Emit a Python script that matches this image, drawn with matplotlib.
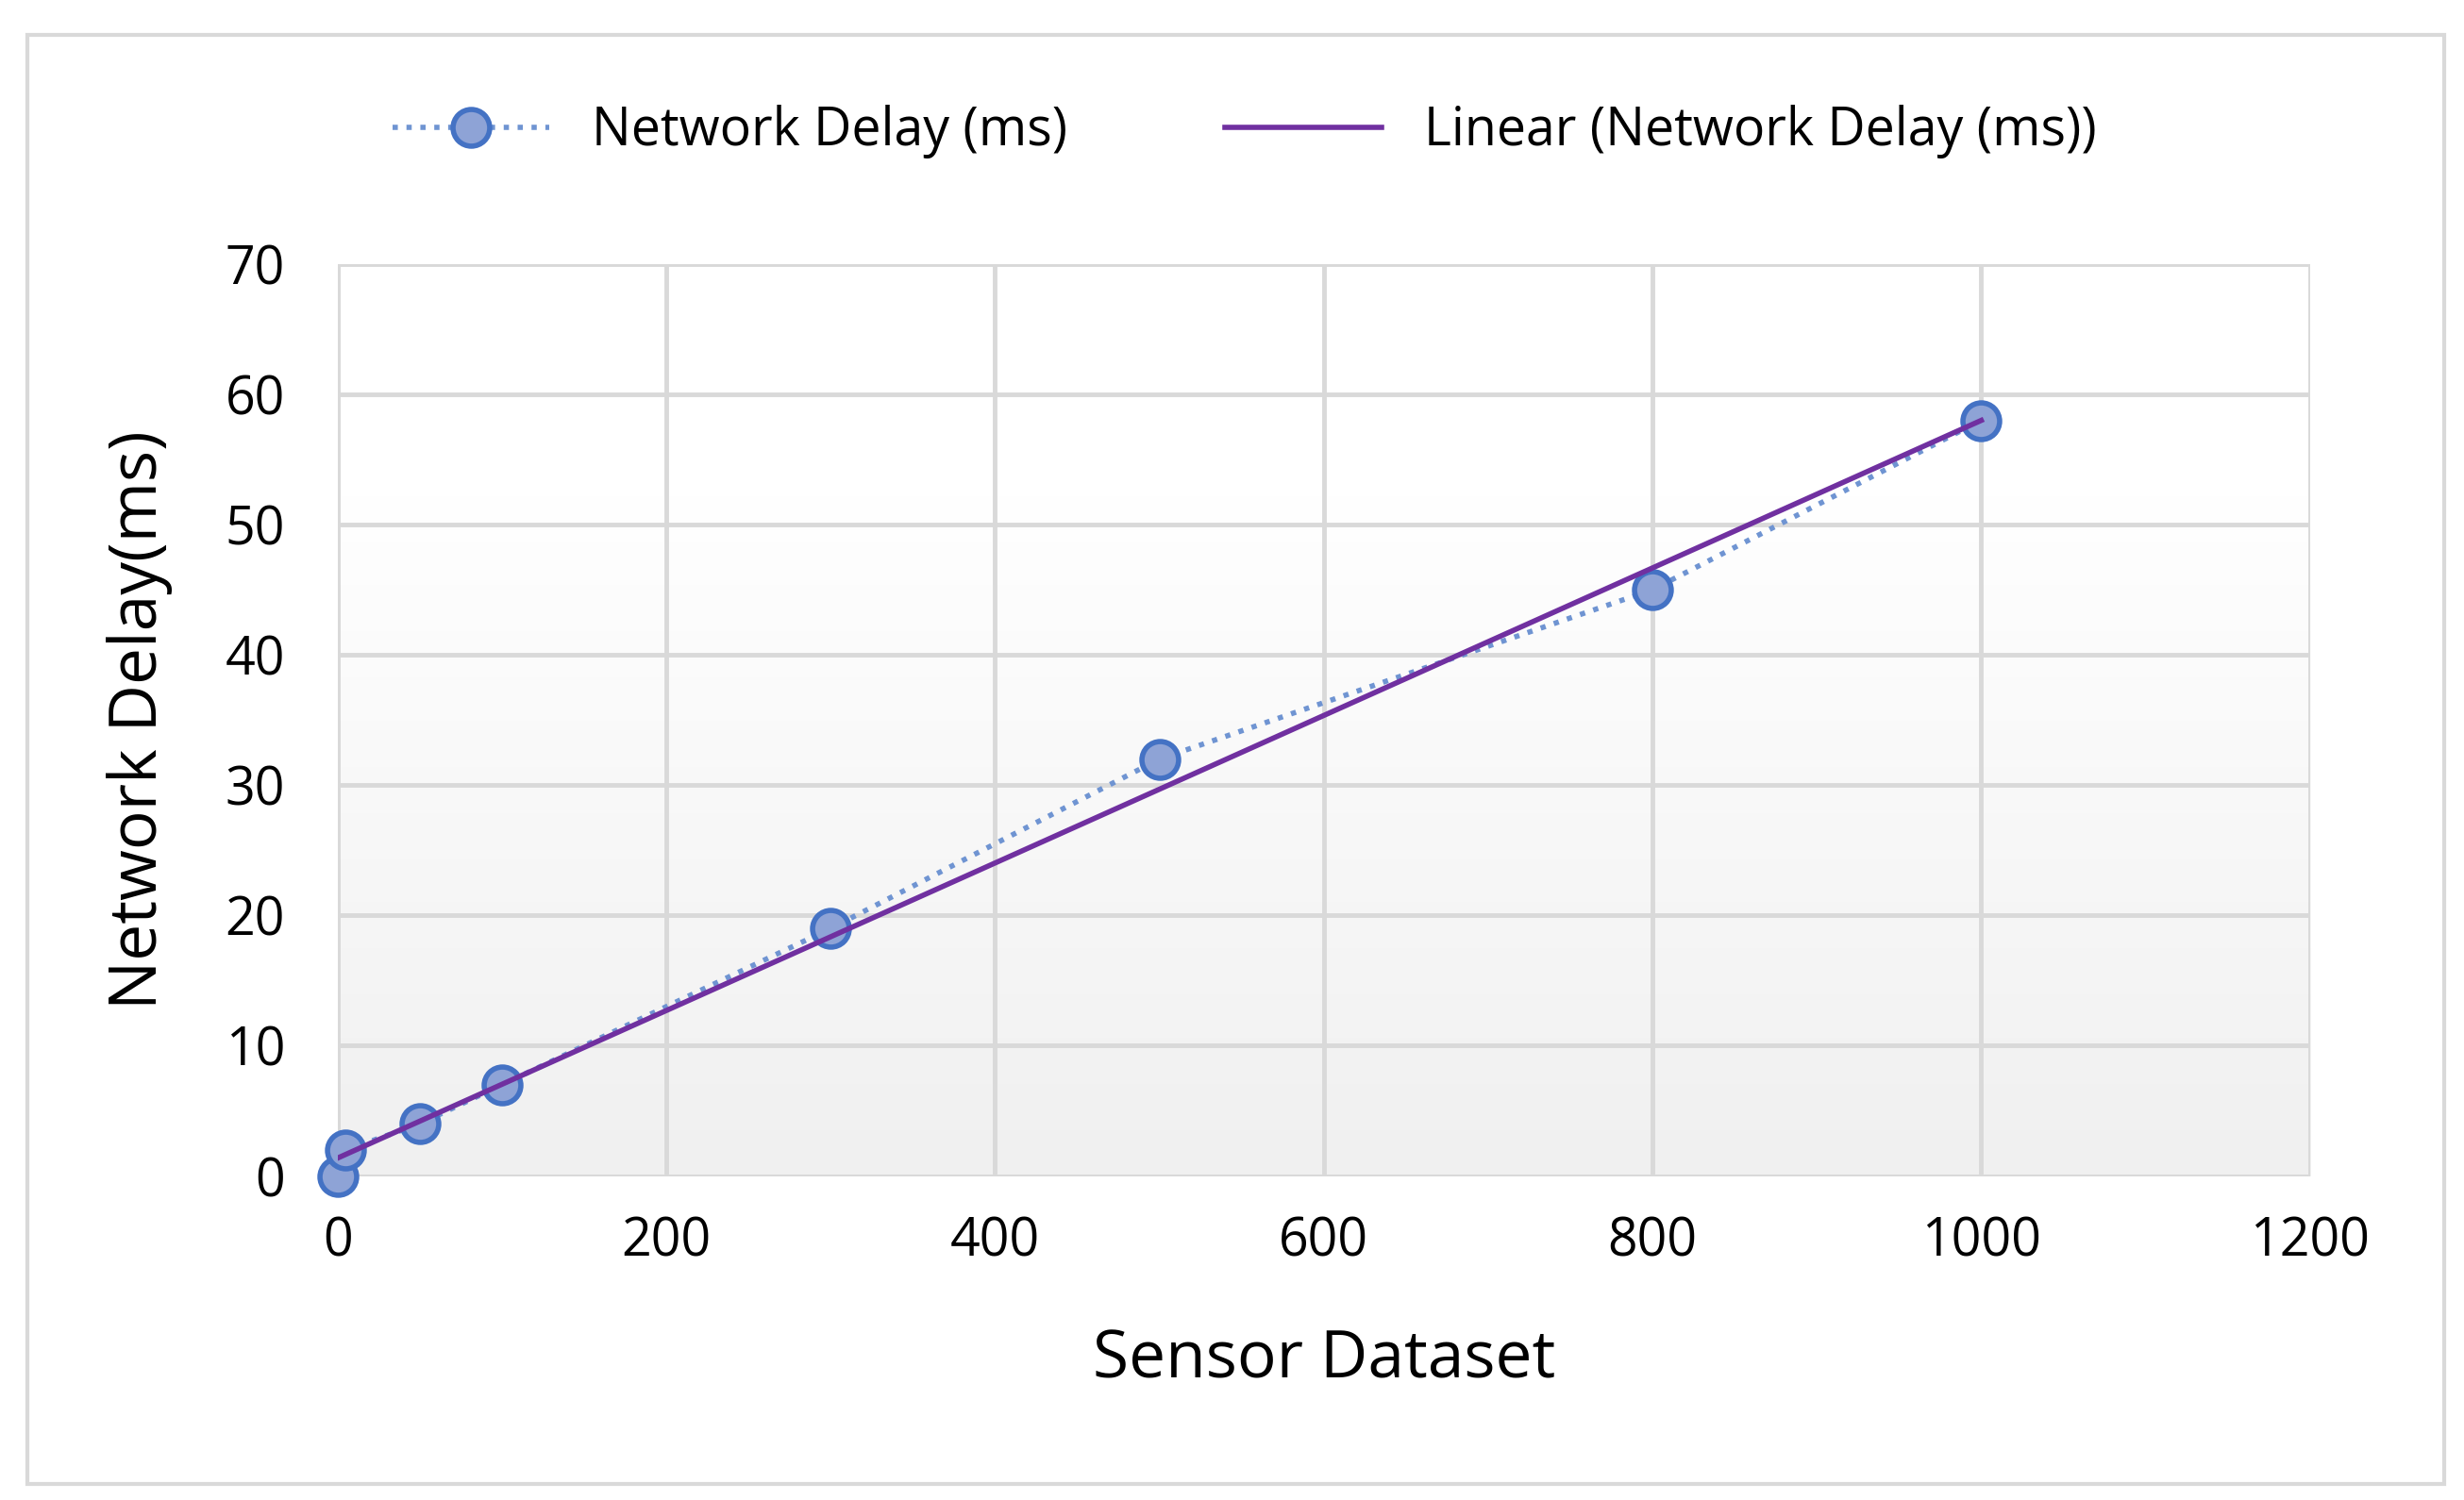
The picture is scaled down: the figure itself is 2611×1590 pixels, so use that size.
import numpy as np
import matplotlib
matplotlib.use("Agg")
import matplotlib.pyplot as plt
from matplotlib.lines import Line2D
from matplotlib.patches import Rectangle

x_vals = [0, 5, 50, 100, 300, 500, 800, 1000]
delay_ms = [0, 2, 4, 7, 19, 32, 45, 58]
xticks = [0, 200, 400, 600, 800, 1000, 1200]
yticks = [0, 10, 20, 30, 40, 50, 60, 70]

plt.rcParams['font.family'] = ['Open Sans', 'DejaVu Sans']
fig = plt.figure(figsize=(26.11, 15.90), dpi=100)
fig.patches.append(Rectangle((0.011, 0.011), 0.981, 0.966, transform=fig.transFigure,
                             fill=False, edgecolor='#d9d9d9', linewidth=3))
ax = fig.add_axes([0.137, 0.216, 0.8005, 0.608])
ax.set_xlim(0, 1200)
ax.set_ylim(0, 70)

grad = np.linspace(0, 1, 256).reshape(-1, 1)
grad = np.clip(grad / 0.75, 0, 1)
cmap = matplotlib.colors.LinearSegmentedColormap.from_list('g', ['#f0f0f0', '#ffffff'])
ax.imshow(grad, aspect='auto', cmap=cmap, extent=(0, 1200, 0, 70), origin='lower', zorder=0)

ax.set_xticks(xticks)
ax.set_yticks(yticks)
ax.grid(True, color='#d9d9d9', linewidth=3.5, zorder=1)
for s in ax.spines.values():
    s.set_visible(False)
ax.axhline(0, color='#d9d9d9', linewidth=3.5, zorder=1)
ax.axvline(0, color='#d9d9d9', linewidth=3.5, zorder=1)
ax.tick_params(axis='x', length=0, labelsize=40, colors='black', pad=30)
ax.tick_params(axis='y', length=0, labelsize=40, colors='black', pad=40)

ax.plot(x_vals, delay_ms, linestyle=':', color='#6f94d2', linewidth=4,
        marker='o', markersize=28, markerfacecolor='#8ea3d6', markeredgecolor='#4472c4',
        markeredgewidth=4, zorder=3, clip_on=False)
coef = np.polyfit(x_vals, delay_ms, 1)
xs = np.array([x_vals[0], x_vals[-1]])
ax.plot(xs, np.polyval(coef, xs), color='#7030a0', linewidth=4, zorder=4)

ax.set_xlabel('Sensor Dataset', fontsize=50, labelpad=45)
ax.set_ylabel('Network Delay(ms)', fontsize=50, labelpad=40)

h1 = Line2D([], [], linestyle=':', color='#6f94d2', linewidth=4, marker='o', markersize=28,
            markerfacecolor='#8ea3d6', markeredgecolor='#4472c4', markeredgewidth=4)
h2 = Line2D([], [], color='#7030a0', linewidth=4)
fig.legend([h1, h2], ['Network Delay (ms)', 'Linear (Network Delay (ms))'],
           loc='center', bbox_to_anchor=(0.505, 0.912), ncol=2, frameon=False,
           fontsize=40, handlelength=3.0, columnspacing=3.0)
fig.savefig('out.png', dpi=100)
